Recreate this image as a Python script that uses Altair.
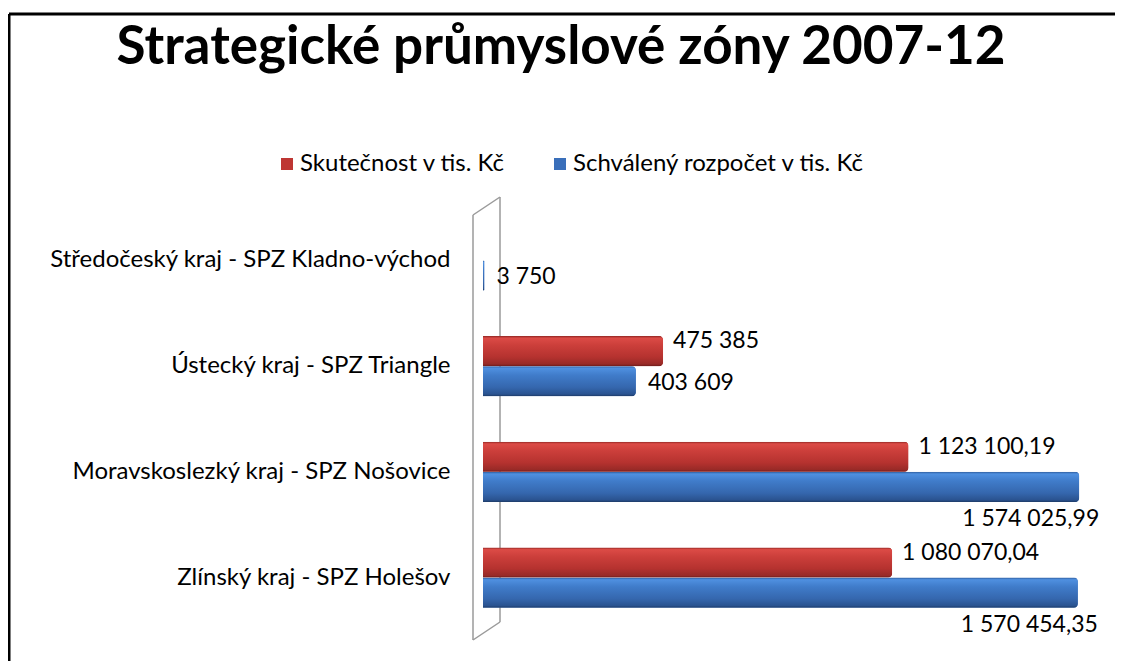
import altair as alt
import pandas as pd

# ---------------- data ----------------
categories = [
    "Středočeský kraj - SPZ Kladno-východ",
    "Ústecký kraj - SPZ Triangle",
    "Moravskoslezký kraj - SPZ Nošovice",
    "Zlínský kraj - SPZ Holešov",
]
series = ["Skutečnost v tis. Kč", "Schválený rozpočet v tis. Kč"]
actual = [None, 475385, 1123100.19, 1080070.04]
budget = [3750, 403609, 1574025.99, 1570454.35]
series_colors = ["#BE3633", "#3A6FBA"]
title_text = "Strategické průmyslové zóny 2007-12"


def fmt(v):
    if float(v).is_integer():
        return f"{int(v):,}".replace(",", " ")
    return f"{v:,.2f}".replace(",", " ").replace(".", ",")


rows = []
for c, a, b in zip(categories, actual, budget):
    for s, v in ((series[0], a), (series[1], b)):
        if v is not None:
            rows.append({"category": c, "series": s, "value": v, "label": fmt(v)})
df = pd.DataFrame(rows)
one = pd.DataFrame({"k": [0]})

FONT = "Lato"
W, H = 600, 424

y_enc = alt.Y(
    "category:N",
    sort=categories,
    title=None,
    scale=alt.Scale(paddingInner=0.43, paddingOuter=0.22),
    axis=alt.Axis(domain=False, ticks=False, grid=False, labelPadding=33, labelFontSize=24,
                  labelFont=FONT, labelColor="#000000", labelLimit=500),
)
yoff = alt.YOffset("series:N", sort=series, scale=alt.Scale(paddingInner=0, paddingOuter=0))
x_enc = alt.X("value:Q", scale=alt.Scale(domain=[0, 1584000], nice=False, zero=True), axis=None)

base = alt.Chart(df).encode(y=y_enc, yOffset=yoff, x=x_enc)

# 3D-ish wall (decoration)
wall_c = "#9a9a9a"
wall = alt.layer(
    alt.Chart(one).mark_rule(color=wall_c, strokeWidth=1.5).encode(
        x=alt.value(-10), y=alt.value(8), y2=alt.value(433)),
    alt.Chart(one).mark_rule(color=wall_c, strokeWidth=1.5).encode(
        x=alt.value(17), y=alt.value(-10), y2=alt.value(415)),
    alt.Chart(one).mark_rule(color=wall_c, strokeWidth=1.5).encode(
        x=alt.value(-10), x2=alt.value(17), y=alt.value(8), y2=alt.value(-10)),
    alt.Chart(one).mark_rule(color=wall_c, strokeWidth=1.5).encode(
        x=alt.value(-10), x2=alt.value(17), y=alt.value(433), y2=alt.value(415)),
)

bars = base.mark_bar(cornerRadiusEnd=4).encode(
    color=alt.Color(
        "series:N",
        sort=series,
        scale=alt.Scale(domain=series, range=series_colors),
        legend=alt.Legend(
            orient="none", legendX=-208, legendY=-55, direction="horizontal",
            title=None, labelFontSize=24, labelFont=FONT, labelColor="#000000",
            symbolType="square", symbolSize=144, symbolStrokeWidth=0,
            columnPadding=42, labelOffset=1, labelLimit=400,
        ),
    )
)

red_grad = alt.Gradient(
    gradient="linear", x1=0, x2=0, y1=0, y2=1,
    stops=[
        alt.GradientStop(offset=0, color="#8f2622"),
        alt.GradientStop(offset=0.07, color="#dc4b46"),
        alt.GradientStop(offset=0.3, color="#cc3f3b"),
        alt.GradientStop(offset=0.7, color="#b5322f"),
        alt.GradientStop(offset=0.93, color="#982a27"),
        alt.GradientStop(offset=1, color="#6e1c1a"),
    ],
)
blue_grad = alt.Gradient(
    gradient="linear", x1=0, x2=0, y1=0, y2=1,
    stops=[
        alt.GradientStop(offset=0, color="#2f5d9e"),
        alt.GradientStop(offset=0.07, color="#4f90e0"),
        alt.GradientStop(offset=0.3, color="#407cca"),
        alt.GradientStop(offset=0.7, color="#3567ae"),
        alt.GradientStop(offset=0.93, color="#2a5390"),
        alt.GradientStop(offset=1, color="#1d3a66"),
    ],
)

red_bars = base.transform_filter(alt.datum.series == series[0]).mark_bar(
    color=red_grad, cornerRadiusEnd=4)
blue_bars = base.transform_filter(alt.datum.series == series[1]).mark_bar(
    color=blue_grad, cornerRadiusEnd=4)

txt = dict(fontSize=23, font=FONT, color="#000000", baseline="middle")
red_labels = base.transform_filter(alt.datum.series == series[0]).mark_text(
    align="left", dx=10, dy=-10, **txt).encode(text="label:N")
blue_small = base.transform_filter(
    (alt.datum.series == series[1]) & (alt.datum.value < 1000000)
).mark_text(align="left", dx=12, dy=2, **txt).encode(text="label:N")
blue_large = base.transform_filter(
    (alt.datum.series == series[1]) & (alt.datum.value >= 1000000)
).mark_text(align="right", dx=20, dy=32, **txt).encode(text="label:N")

title = alt.Chart(one).mark_text(
    text=title_text, fontSize=53, fontWeight="bold", font=FONT, color="#000000",
    align="center", baseline="middle",
).encode(x=alt.value(78), y=alt.value(-159))

border = alt.layer(
    alt.Chart(one).mark_rule(color="#000000", strokeWidth=3).encode(
        x=alt.value(-474), x2=alt.value(632), y=alt.value(-193)),
    alt.Chart(one).mark_rule(color="#000000", strokeWidth=3).encode(
        x=alt.value(-474), y=alt.value(-193), y2=alt.value(460)),
)

chart = alt.layer(
    wall, bars, red_bars, blue_bars, red_labels, blue_small, blue_large, title, border
).properties(
    width=W, height=H,
    padding={"left": 475, "top": 199, "right": 32, "bottom": 30},
    autosize=alt.AutoSizeParams(type="none"),
).configure(background="#ffffff", view=alt.ViewConfig(stroke=None))

chart.save("out.html", embed_options={"renderer": "svg", "actions": False})
